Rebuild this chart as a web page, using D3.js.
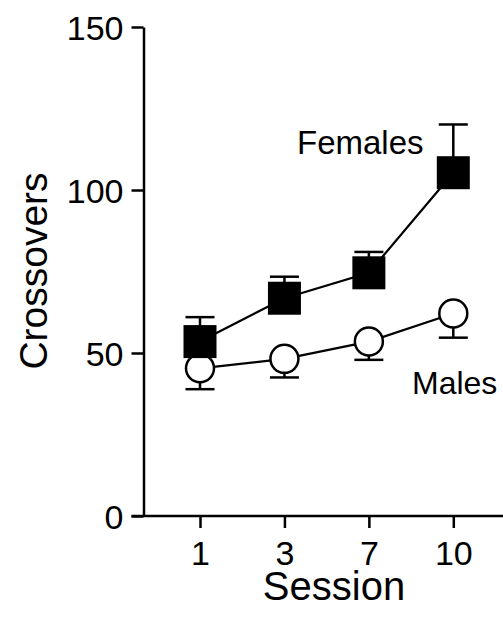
<!DOCTYPE html>
<html>
<head>
<meta charset="utf-8">
<script src="https://cdn.jsdelivr.net/npm/d3@7"></script>
<style>
  body { margin: 0; background: #fff; }
  svg text { font-family: Arial, "Liberation Sans", sans-serif; fill: #000; }
</style>
</head>
<body>
<script>
// crossovers per session, mean with one-sided SEM bar

var sessions = ['1', '3', '7', '10'];
var femaleMeans = [53.5, 66.8, 74.6, 105.3];
var femaleSem = [7.5, 6.6, 6.4, 14.8];
var maleMeans = [45.3, 48.2, 53.5, 62.1];
var maleSem = [6.4, 5.7, 5.6, 7.4];
var yTicks = [0, 50, 100, 150];

var width = 503;
var height = 622;

var svg = d3.select('body').append('svg')
    .attr('width', width)
    .attr('height', height);

var x = d3.scalePoint().domain(sessions).range([200, 453.3]);
var y = d3.scaleLinear().domain([0, 150]).range([516, 27]);
var axisX = 143.5;

// y axis
var yAxis = svg.append('g')
    .attr('transform', `translate(${axisX},0)`)
    .call(d3.axisLeft(y).tickValues(yTicks).tickSize(12).tickPadding(8).tickSizeOuter(0));
yAxis.select('.domain').attr('stroke-width', 2.5);
yAxis.selectAll('.tick line').attr('stroke-width', 2.5);
yAxis.selectAll('.tick text').style('font-size', '34px').attr('dy', '0.36em');

// x axis - baseline runs on to the right edge
var xAxis = svg.append('g')
    .attr('transform', `translate(0,${y(0)})`)
    .call(d3.axisBottom(x).tickSize(12).tickPadding(13).tickSizeOuter(0));
xAxis.select('.domain').remove();
xAxis.append('line')
    .attr('x1', axisX - 12).attr('x2', width)
    .attr('stroke', '#000').attr('stroke-width', 2.5);
xAxis.selectAll('.tick line').attr('stroke-width', 2.5);
xAxis.selectAll('.tick text').style('font-size', '34px').attr('dy', '0.71em');

// axis titles
svg.append('text')
    .attr('x', 334).attr('y', 600)
    .attr('text-anchor', 'middle')
    .style('font-size', '40px')
    .text('Session');

svg.append('text')
    .attr('transform', 'translate(47,271) rotate(-90)')
    .attr('text-anchor', 'middle')
    .style('font-size', '39px')
    .text('Crossovers');

function toPoints(means, sem){
    return sessions.map(function(s, i){ return {s: s, m: means[i], e: sem[i]}; });
}
var males = toPoints(maleMeans, maleSem);
var females = toPoints(femaleMeans, femaleSem);

var line = d3.line()
    .x(function(d){ return x(d.s); })
    .y(function(d){ return y(d.m); });

function drawErrors(data, dir){
    var g = svg.append('g').attr('stroke', '#000').attr('stroke-width', 2.5);
    g.selectAll('.stem').data(data).enter().append('line')
        .attr('x1', function(d){ return x(d.s); })
        .attr('x2', function(d){ return x(d.s); })
        .attr('y1', function(d){ return y(d.m); })
        .attr('y2', function(d){ return y(d.m + dir * d.e); });
    g.selectAll('.cap').data(data).enter().append('line')
        .attr('x1', function(d){ return x(d.s) - 14.5; })
        .attr('x2', function(d){ return x(d.s) + 14.5; })
        .attr('y1', function(d){ return y(d.m + dir * d.e); })
        .attr('y2', function(d){ return y(d.m + dir * d.e); });
}

// males: open circles, bars pointing down
svg.append('path').datum(males)
    .attr('d', line)
    .attr('fill', 'none').attr('stroke', '#000').attr('stroke-width', 2.2);
drawErrors(males, -1);
svg.selectAll('.male').data(males).enter().append('circle')
    .attr('cx', function(d){ return x(d.s); })
    .attr('cy', function(d){ return y(d.m); })
    .attr('r', 14)
    .attr('fill', '#fff').attr('stroke', '#000').attr('stroke-width', 2.5);

// females: filled squares, bars pointing up
var sq = 33;
svg.append('path').datum(females)
    .attr('d', line)
    .attr('fill', 'none').attr('stroke', '#000').attr('stroke-width', 2.2);
drawErrors(females, 1);
svg.selectAll('.female').data(females).enter().append('rect')
    .attr('x', function(d){ return x(d.s) - sq / 2; })
    .attr('y', function(d){ return y(d.m) - sq / 2; })
    .attr('width', sq).attr('height', sq)
    .attr('fill', '#000');

// series labels
svg.append('text')
    .attr('x', 297).attr('y', 154)
    .style('font-size', '33px')
    .text('Females');
svg.append('text')
    .attr('x', 412).attr('y', 394)
    .style('font-size', '32px')
    .text('Males');
</script>
</body>
</html>
